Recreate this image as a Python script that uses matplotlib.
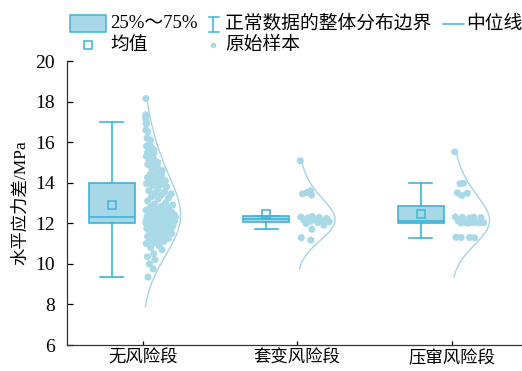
import numpy as np
import matplotlib.pyplot as plt
from matplotlib.patches import Rectangle
from matplotlib.lines import Line2D

plt.rcParams['font.family'] = ['Liberation Serif', 'Noto Sans CJK SC']

# 各井段水平应力差样本 (MPa)
groups = ['无风险段', '套变风险段', '压窜风险段']

no_risk = [
    18.15, 17.35, 17.25, 17.15, 17.0, 16.9, 16.6, 16.5, 16.2, 16.1,
    15.9, 15.8, 15.75, 15.7, 15.6, 15.55, 15.5, 15.45, 15.4, 15.3,
    15.2, 15.1, 15.0, 14.95, 14.9, 14.8, 14.7, 14.6, 14.5, 14.4,
    14.35, 14.3, 14.25, 14.2, 14.15, 14.1, 14.1, 14.05, 14.05, 14.02,
    13.95, 13.9, 13.85, 13.8, 13.7, 13.6, 13.55, 13.5, 13.45, 13.4,
    13.3, 13.25, 13.2, 13.1, 13.0, 12.95, 12.9, 12.85, 12.8, 12.75,
    12.7, 12.65, 12.6, 12.6, 12.55, 12.5, 12.5, 12.45, 12.45, 12.4,
    12.4, 12.4, 12.38, 12.36, 12.35, 12.35, 12.34, 12.34, 12.33, 12.33,
    12.31, 12.3, 12.3, 12.29, 12.28, 12.27, 12.26, 12.25, 12.25, 12.24,
    12.23, 12.22, 12.21, 12.2, 12.2, 12.19, 12.18, 12.17, 12.16, 12.15,
    12.15, 12.14, 12.13, 12.12, 12.11, 12.1, 12.1, 12.09, 12.08, 12.07,
    12.06, 12.05, 12.05, 12.04, 12.03, 12.02, 12.02, 12.01, 12.01, 12.0,
    11.98, 11.95, 11.92, 11.9, 11.88, 11.85, 11.82, 11.8, 11.78, 11.75,
    11.72, 11.7, 11.68, 11.65, 11.62, 11.6, 11.55, 11.5, 11.48, 11.45,
    11.42, 11.4, 11.35, 11.3, 11.28, 11.25, 11.2, 11.15, 11.1, 11.05,
    11.0, 10.9, 10.8, 10.7, 10.5, 10.35, 10.2, 10.0, 9.75, 9.35,
]
casing_deform = [
    15.08, 13.6, 13.52, 13.45, 13.39, 12.34, 12.31, 12.29, 12.27, 12.24,
    12.19, 12.16, 12.12, 12.1, 12.08, 12.04, 11.99, 11.91, 11.71, 11.29,
    11.17,
]
frac_hit = [
    15.52, 13.97, 13.95, 13.5, 13.48, 13.37, 12.31, 12.3, 12.29, 12.28,
    12.26, 12.12, 12.05, 12.04, 12.03, 12.03, 12.02, 12.02, 12.01, 11.31,
    11.3, 11.3, 11.29,
]
data = [no_risk, casing_deform, frac_hit]

edge_c = '#3db5d6'
fill_c = '#a8d8e8'
dot_c = '#a9d9e7'
curve_c = '#a3d5e6'


def density(vals, y, bw=1.0):
    vals = np.asarray(vals)
    h = bw * vals.std(ddof=1)
    d = np.exp(-0.5 * ((y[:, None] - vals[None, :]) / h) ** 2).sum(axis=1)
    return d


fig = plt.figure(figsize=(5.22, 3.71), dpi=100)
ax = fig.add_axes([67 / 522, 26 / 371, 455 / 522, 284 / 371])

pos = np.arange(len(groups))
bp = ax.boxplot(data, positions=pos - 0.2, widths=0.3, patch_artist=True,
                showmeans=True, showfliers=False, capwidths=0.15, whis=1.55,
                boxprops=dict(facecolor=fill_c, edgecolor=edge_c, linewidth=1.2),
                medianprops=dict(color=edge_c, linewidth=1.2),
                whiskerprops=dict(color=edge_c, linewidth=1.2),
                capprops=dict(color=edge_c, linewidth=1.2),
                meanprops=dict(marker='s', markerfacecolor='none',
                               markeredgecolor=edge_c, markersize=5.5,
                               markeredgewidth=1.1))

# 半边密度曲线 + 原始样本散点
half_w = 0.245
for p, vals in zip(pos, data):
    vals = np.asarray(vals)
    m, s = vals.mean(), vals.std(ddof=1)
    yy = np.linspace(m - 3 * s, m + 3 * s, 300)
    dd = density(vals, yy)
    scale = half_w / dd.max()
    ax.plot(p + dd * scale, yy, color=curve_c, lw=1.0, zorder=2)
    w_pts = density(vals, vals) * scale
    frac = (np.arange(len(vals)) * 0.618034 + 0.31) % 1
    xs = p + 0.02 + frac * np.maximum(w_pts - 0.05, 0)
    ax.scatter(xs, vals, s=26, color=dot_c, edgecolors='none', zorder=3)

ax.set_xlim(-0.49, 2.455)
ax.set_ylim(6, 20)
ax.set_yticks(np.arange(6, 21, 2))
ax.set_xticks(pos)
ax.set_xticklabels(groups, fontsize=12.5)
ax.tick_params(axis='y', direction='in', length=4.5, width=0.9, labelsize=14, pad=9)
ax.tick_params(axis='x', direction='in', length=3, width=0.9, pad=4)
ax.set_ylabel('水平应力差/MPa', fontsize=12.5, labelpad=4)
for side in ['top', 'right']:
    ax.spines[side].set_visible(False)
for side in ['left', 'bottom']:
    ax.spines[side].set_linewidth(0.9)
    ax.spines[side].set_color('#333333')


# 图例 (画在图的上方)
def fx(px):
    return px / 522


def fy(py):
    return 1 - py / 371


tf = fig.transFigure
fig.add_artist(Rectangle((fx(69.5), fy(32)), fx(105.5) - fx(69.5), fy(15) - fy(32),
                         facecolor=fill_c, edgecolor=edge_c, lw=1.1, transform=tf))
fig.text(fx(110), fy(24), '25%～75%', fontsize=13.5, va='center', ha='left')

fig.add_artist(Line2D([fx(213.3)] * 2, [fy(16.5), fy(31.5)], color=edge_c, lw=1.1, transform=tf))
fig.add_artist(Line2D([fx(208.5), fx(218.5)], [fy(16.5)] * 2, color=edge_c, lw=1.1, transform=tf))
fig.add_artist(Line2D([fx(208.5), fx(218.5)], [fy(31.5)] * 2, color=edge_c, lw=1.1, transform=tf))
fig.text(fx(225), fy(24), '正常数据的整体分布边界', fontsize=13.5, va='center', ha='left')

fig.add_artist(Line2D([fx(443), fx(464)], [fy(23.5)] * 2, color=edge_c, lw=1.1, transform=tf))
fig.text(fx(466), fy(24), '中位线', fontsize=13.5, va='center', ha='left')

fig.add_artist(Line2D([fx(87.5)], [fy(44.5)], marker='s', markersize=5.5, markerfacecolor='none',
                      markeredgecolor=edge_c, markeredgewidth=1.1, transform=tf))
fig.text(fx(110), fy(45), '均值', fontsize=13.5, va='center', ha='left')

fig.add_artist(Line2D([fx(213.3)], [fy(44.5)], marker='o', markersize=4, markerfacecolor=dot_c,
                      markeredgecolor='none', transform=tf))
fig.text(fx(225), fy(45), '原始样本', fontsize=13.5, va='center', ha='left')

fig.savefig('out.png', dpi=100)
